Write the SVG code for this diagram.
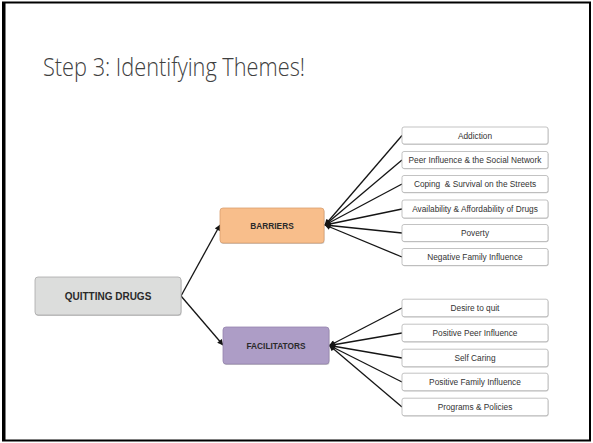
<svg xmlns="http://www.w3.org/2000/svg" width="593" height="443" viewBox="0 0 593 443">
  <style>
    .title { font-family: "Open Sans", "Liberation Sans", sans-serif; font-weight: 300; font-size: 25px; fill: #404040; }
    .main { font-family: "Liberation Sans", Arial, sans-serif; font-weight: bold; fill: #2a2a2a; text-anchor: middle; }
    .leaf { font-family: "Liberation Sans", Arial, sans-serif; font-size: 8.3px; fill: #333333; text-anchor: middle; }
    .shadow { fill: #9a9a9a; opacity: 0.55; }
    .leafbox { fill: #ffffff; stroke: #b4b4b4; stroke-width: 0.8; }
    .edge { stroke: #151515; stroke-width: 1.3; fill: none; marker-end: url(#arrow); }
  </style>
  <defs>
    <marker id="arrow" viewBox="0 0 10 10" refX="9" refY="5" markerWidth="7" markerHeight="6" markerUnits="userSpaceOnUse" orient="auto">
      <path d="M0,0 L10,5 L0,10 z" fill="#151515"/>
    </marker>
  </defs>

  <!-- slide background and frame -->
  <rect x="0" y="0" width="593" height="443" fill="#ffffff"/>
  <rect x="3" y="2.5" width="587" height="438" fill="none" stroke="#000000" stroke-width="2"/>
  <line x1="4.5" y1="2" x2="4.5" y2="441" stroke="#000000" stroke-width="2"/>

  <text class="title" x="43" y="76" textLength="262" lengthAdjust="spacingAndGlyphs">Step 3: Identifying Themes!</text>

  <!-- connectors -->
  <g id="connectors">
    <line class="edge" x1="181" y1="296" x2="220" y2="225"/>
    <line class="edge" x1="181" y1="296" x2="223" y2="345"/>

    <line class="edge" x1="402" y1="135.5" x2="325" y2="225"/>
    <line class="edge" x1="402" y1="160" x2="325" y2="225"/>
    <line class="edge" x1="402" y1="184" x2="325" y2="225"/>
    <line class="edge" x1="402" y1="209" x2="325" y2="225"/>
    <line class="edge" x1="402" y1="233" x2="325" y2="225"/>
    <line class="edge" x1="402" y1="257" x2="325" y2="225"/>

    <line class="edge" x1="402" y1="308" x2="329.5" y2="345.5"/>
    <line class="edge" x1="402" y1="333" x2="329.5" y2="345.5"/>
    <line class="edge" x1="402" y1="358" x2="329.5" y2="345.5"/>
    <line class="edge" x1="402" y1="382" x2="329.5" y2="345.5"/>
    <line class="edge" x1="402" y1="407" x2="329.5" y2="345.5"/>
  </g>

  <!-- root -->
  <g id="quitting-drugs">
    <rect class="shadow" x="35.5" y="278" width="146" height="38" rx="3"/>
    <rect x="35" y="277" width="146" height="38" rx="3" fill="#dcdddc" stroke="#a8a8a8" stroke-width="0.8"/>
    <text class="main" x="108" y="299.5" font-size="10">QUITTING DRUGS</text>
  </g>

  <!-- categories -->
  <g id="barriers">
    <rect class="shadow" x="220.5" y="209" width="104" height="35" rx="3"/>
    <rect x="220" y="208" width="104" height="35" rx="3" fill="#f8be8b" stroke="#d9a070" stroke-width="0.8"/>
    <text class="main" x="272" y="228.5" font-size="8.3">BARRIERS</text>
  </g>
  <g id="facilitators">
    <rect class="shadow" x="223.5" y="328" width="106" height="37" rx="3"/>
    <rect x="223" y="327" width="106" height="37" rx="3" fill="#ad9dc6" stroke="#9484ad" stroke-width="0.8"/>
    <text class="main" x="276" y="348.5" font-size="8.3">FACILITATORS</text>
  </g>

  <!-- barrier themes -->
  <g id="addiction">
    <rect class="shadow" x="402.5" y="127.8" width="146" height="17" rx="2"/>
    <rect class="leafbox" x="402" y="127" width="146" height="17" rx="2"/>
    <text class="leaf" x="475" y="138.5">Addiction</text>
  </g>
  <g id="peer-influence">
    <rect class="shadow" x="402.5" y="152.3" width="146" height="17" rx="2"/>
    <rect class="leafbox" x="402" y="151.5" width="146" height="17" rx="2"/>
    <text class="leaf" x="475" y="163">Peer Influence &amp; the Social Network</text>
  </g>
  <g id="coping">
    <rect class="shadow" x="402.5" y="176.3" width="146" height="17" rx="2"/>
    <rect class="leafbox" x="402" y="175.5" width="146" height="17" rx="2"/>
    <text class="leaf" x="475" y="187" xml:space="preserve">Coping  &amp; Survival on the Streets</text>
  </g>
  <g id="availability">
    <rect class="shadow" x="402.5" y="200.8" width="146" height="18" rx="2"/>
    <rect class="leafbox" x="402" y="200" width="146" height="18" rx="2"/>
    <text class="leaf" x="475" y="212">Availability &amp; Affordability of Drugs</text>
  </g>
  <g id="poverty">
    <rect class="shadow" x="402.5" y="225.3" width="146" height="17" rx="2"/>
    <rect class="leafbox" x="402" y="224.5" width="146" height="17" rx="2"/>
    <text class="leaf" x="475" y="236">Poverty</text>
  </g>
  <g id="negative-family">
    <rect class="shadow" x="402.5" y="249.3" width="146" height="17" rx="2"/>
    <rect class="leafbox" x="402" y="248.5" width="146" height="17" rx="2"/>
    <text class="leaf" x="475" y="260">Negative Family Influence</text>
  </g>

  <!-- facilitator themes -->
  <g id="desire-to-quit">
    <rect class="shadow" x="402.5" y="300" width="146" height="17.5" rx="2"/>
    <rect class="leafbox" x="402" y="299.2" width="146" height="17.5" rx="2"/>
    <text class="leaf" x="475" y="311">Desire to quit</text>
  </g>
  <g id="positive-peer">
    <rect class="shadow" x="402.5" y="325" width="146" height="17.5" rx="2"/>
    <rect class="leafbox" x="402" y="324.2" width="146" height="17.5" rx="2"/>
    <text class="leaf" x="475" y="336">Positive Peer Influence</text>
  </g>
  <g id="self-caring">
    <rect class="shadow" x="402.5" y="350" width="146" height="17.5" rx="2"/>
    <rect class="leafbox" x="402" y="349.2" width="146" height="17.5" rx="2"/>
    <text class="leaf" x="475" y="361">Self Caring</text>
  </g>
  <g id="positive-family">
    <rect class="shadow" x="402.5" y="374" width="146" height="17.5" rx="2"/>
    <rect class="leafbox" x="402" y="373.2" width="146" height="17.5" rx="2"/>
    <text class="leaf" x="475" y="385">Positive Family Influence</text>
  </g>
  <g id="programs-policies">
    <rect class="shadow" x="402.5" y="399" width="146" height="17.5" rx="2"/>
    <rect class="leafbox" x="402" y="398.2" width="146" height="17.5" rx="2"/>
    <text class="leaf" x="475" y="410">Programs &amp; Policies</text>
  </g>
</svg>
